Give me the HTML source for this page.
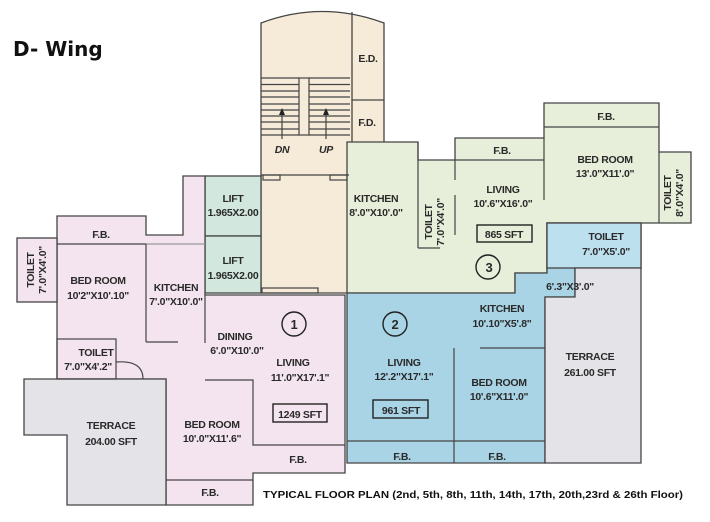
<!DOCTYPE html>
<html><head><meta charset="utf-8"><style>
html,body{margin:0;padding:0;background:#fff;width:710px;height:522px;overflow:hidden}
svg{display:block}
text{font-family:"Liberation Sans",sans-serif;font-weight:bold;font-size:10.5px;letter-spacing:-0.3px;fill:#2a2a2a;text-anchor:middle}
</style></head><body>
<svg width="710" height="522" viewBox="0 0 710 522" xmlns="http://www.w3.org/2000/svg">
<g stroke="#444" stroke-width="1.3" stroke-linejoin="miter">
<path d="M261,293 L261,23 Q322,0 384,23 L384,163 L349,163 L349,293 Z" fill="#f5ebd8"/>
<line x1="352" y1="12" x2="352" y2="163"/>
<line x1="352" y1="100" x2="384" y2="100"/>
<rect x="205" y="176" width="56" height="60" fill="#d2e8df"/>
<rect x="205" y="236" width="56" height="57" fill="#d2e8df"/>
<path d="M57,216 L146,216 L146,235 L183,235 L183,176 L205,176 L205,295 L345,295 L345,473 L253,473 L253,505 L166,505 L166,379 L57,379 Z" fill="#f3e4ef"/>
<rect x="17" y="238" width="40" height="64" fill="#f3e4ef"/>
<path d="M24,379 L166,379 L166,505 L67,505 L67,435 L24,435 Z" fill="#e4e3e8"/>
<path d="M347,142 L418,142 L418,160 L455,160 L455,138 L544,138 L544,103 L659,103 L659,152 L691,152 L691,223 L547,223 L547,273 L515,273 L515,293 L347,293 Z" fill="#e7eed9"/>
<path d="M347,293 L515,293 L515,273 L547,273 L547,223 L641,223 L641,268 L575,268 L575,297 L545,297 L545,463 L347,463 Z" fill="#a9d4e6"/>
<rect x="547" y="223" width="94" height="45" fill="#bde0ee"/>
<path d="M575,268 L641,268 L641,463 L545,463 L545,297 L575,297 Z" fill="#e4e3e8"/>
</g>
<g stroke="#444" stroke-width="1.2" fill="none">
<line x1="261" y1="78" x2="299" y2="78"/><line x1="309" y1="78" x2="350" y2="78"/>
<path d="M261,84.5H299M261,91H299M261,97H299M261,104H299M261,110H299M261,116H299M261,122H299M261,129H299M261,135H299"/>
<path d="M309,84.5H350M309,91H350M309,97H350M309,104H350M309,110H350M309,116H350M309,122H350M309,129H350M309,135H350"/>
<rect x="299" y="78" width="10" height="57"/>
<line x1="282" y1="139" x2="282" y2="112"/><line x1="326" y1="139" x2="326" y2="112"/>
<line x1="261" y1="175" x2="349" y2="175"/>
<rect x="263" y="175" width="17" height="5"/><rect x="330" y="175" width="17" height="5"/>
<rect x="262" y="288" width="56" height="5"/>
<line x1="57" y1="244" x2="146" y2="244"/>
<line x1="146" y1="244" x2="205" y2="244" stroke="#999"/>
<line x1="146" y1="244" x2="146" y2="342"/><line x1="146" y1="342" x2="178" y2="342"/>
<line x1="205" y1="295" x2="205" y2="343"/>
<rect x="57" y="339" width="59" height="40"/>
<path d="M116,362 Q143,360 143,379"/>
<path d="M205,380 L253,380 L253,445 L345,445"/>
<line x1="166" y1="480" x2="253" y2="480"/>
<line x1="418" y1="142" x2="418" y2="248"/>
<line x1="455" y1="160" x2="455" y2="180"/><line x1="455" y1="195" x2="455" y2="235"/>
<line x1="418" y1="248" x2="440" y2="248"/>
<line x1="455" y1="160" x2="544" y2="160"/>
<line x1="544" y1="138" x2="544" y2="200"/>
<line x1="544" y1="127" x2="659" y2="127"/>
<line x1="659" y1="152" x2="659" y2="223"/>
<line x1="454" y1="348" x2="454" y2="463"/>
<line x1="480" y1="348" x2="545" y2="348"/>
<line x1="347" y1="441" x2="545" y2="441"/>
</g>
<g fill="#222"><path d="M282,108 l-3,7 h6z"/><path d="M326,108 l-3,7 h6z"/></g>
<g fill="none" stroke="#222" stroke-width="1.4">
<circle cx="294" cy="324" r="12"/><circle cx="395" cy="324" r="12"/><circle cx="488" cy="267" r="12"/>
<rect x="273" y="404" width="54" height="18"/><rect x="373" y="400" width="55" height="18"/><rect x="477" y="225" width="55" height="17"/>
</g>
<text x="13" y="56" style="font-family:'DejaVu Sans',sans-serif;font-size:20px;letter-spacing:0;text-anchor:start;fill:#111">D- Wing</text>
<text x="368" y="62">E.D.</text><text x="367" y="126">F.D.</text>
<text x="282" y="153" style="font-style:italic">DN</text><text x="326" y="153" style="font-style:italic">UP</text>
<text x="233" y="202">LIFT</text><text x="233" y="216">1.965X2.00</text>
<text x="233" y="264">LIFT</text><text x="233" y="279">1.965X2.00</text>
<text x="376" y="202">KITCHEN</text><text x="376" y="216">8'.0"X10'.0"</text>
<text transform="translate(432,222) rotate(-90)">TOILET</text><text transform="translate(444,222) rotate(-90)">7'.0"X4'.0"</text>
<text x="502" y="154">F.B.</text><text x="503" y="193">LIVING</text><text x="503" y="207">10'.6"X16'.0"</text>
<text x="504" y="238">865 SFT</text>
<text x="606" y="120">F.B.</text><text x="605" y="163">BED ROOM</text><text x="605" y="177">13'.0"X11'.0"</text>
<text transform="translate(671,193) rotate(-90)">TOILET</text><text transform="translate(683,193) rotate(-90)">8'.0"X4'.0"</text>
<text x="489" y="272" style="font-size:13px">3</text>
<text x="606" y="240">TOILET</text><text x="606" y="255">7'.0"X5'.0"</text>
<text x="570" y="290">6'.3"X3'.0"</text>
<text x="502" y="312">KITCHEN</text><text x="502" y="327">10'.10"X5'.8"</text>
<text x="395" y="329" style="font-size:13px">2</text>
<text x="404" y="366">LIVING</text><text x="404" y="380">12'.2"X17'.1"</text>
<text x="401" y="414">961 SFT</text>
<text x="499" y="386">BED ROOM</text><text x="499" y="400">10'.6"X11'.0"</text>
<text x="590" y="360">TERRACE</text><text x="590" y="376">261.00 SFT</text>
<text x="402" y="460">F.B.</text><text x="497" y="460">F.B.</text>
<text x="101" y="238">F.B.</text>
<text transform="translate(34,270) rotate(-90)">TOILET</text><text transform="translate(46,270) rotate(-90)">7'.0"X4'.0"</text>
<text x="98" y="284">BED ROOM</text><text x="98" y="299">10'2"X10'.10"</text>
<text x="176" y="291">KITCHEN</text><text x="176" y="305">7'.0"X10'.0"</text>
<text x="294" y="329" style="font-size:13px">1</text>
<text x="235" y="340">DINING</text><text x="237" y="354">6'.0"X10'.0"</text>
<text x="293" y="366">LIVING</text><text x="300" y="381">11'.0"X17'.1"</text>
<text x="300" y="418">1249 SFT</text>
<text x="96" y="356">TOILET</text><text x="88" y="370">7'.0"X4'.2"</text>
<text x="111" y="429">TERRACE</text><text x="111" y="445">204.00 SFT</text>
<text x="212" y="428">BED ROOM</text><text x="212" y="442">10'.0"X11'.6"</text>
<text x="298" y="463">F.B.</text><text x="210" y="496">F.B.</text>
<text x="263" y="498" textLength="420" lengthAdjust="spacingAndGlyphs" style="text-anchor:start;letter-spacing:0;fill:#111">TYPICAL FLOOR PLAN (2nd, 5th, 8th, 11th, 14th, 17th, 20th,23rd &amp; 26th Floor)</text>
</svg>
</body></html>
